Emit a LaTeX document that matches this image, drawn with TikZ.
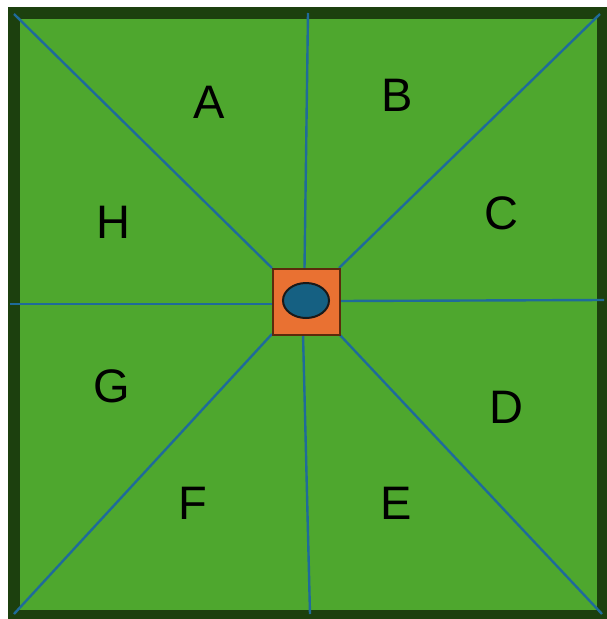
\documentclass[tikz,border=0pt]{standalone}
\usetikzlibrary{shapes.geometric}
\usepackage{fontspec}
\setmainfont{Liberation Sans}
\definecolor{field}{HTML}{4EA72E}
\definecolor{darkrim}{HTML}{1C400E}
\definecolor{boxorange}{HTML}{E97132}
\definecolor{boxrim}{HTML}{5C2A0C}
\definecolor{pond}{HTML}{156082}
\definecolor{ray}{HTML}{1F6B9A}
\tikzset{
  rayline/.style={draw=ray, line width=2.4pt},
  lbl/.style={font=\fontsize{47}{50}\selectfont, text=black, inner sep=0pt},
}
\begin{document}
\begin{tikzpicture}[x=1pt,y=-1pt]
\useasboundingbox (0,0) rectangle (607,619);
\begin{scope}
\clip (0,0) rectangle (607,619);
\draw[fill=field, draw=darkrim, line width=12pt] (14,13) rectangle (603,616);
\end{scope}
% rim anchor points
\coordinate (tl) at (14,14);
\coordinate (tr) at (600,14);
\coordinate (bl) at (14,614);
\coordinate (br) at (602,614);
\coordinate (tm) at (308,13);
\coordinate (bm) at (310,614);
\coordinate (lm) at (10,304);
\coordinate (rm) at (604,300);
% box corner points
\coordinate (btl) at (272,268);
\coordinate (btr) at (339,268);
\coordinate (bbl) at (272,334);
\coordinate (bbr) at (339,334);
\coordinate (btm) at (304.5,268);
\coordinate (bbm) at (303,334);
\coordinate (blm) at (272,304);
\coordinate (brm) at (339,301);
\draw[rayline] (tl) -- (btl);
\draw[rayline] (tr) -- (btr);
\draw[rayline] (bl) -- (bbl);
\draw[rayline] (br) -- (bbr);
\draw[rayline] (tm) -- (btm);
\draw[rayline] (bm) -- (bbm);
\draw[rayline] (lm) -- (blm);
\draw[rayline] (rm) -- (brm);
\node[draw=boxrim, fill=boxorange, line width=2pt, minimum width=67pt, minimum height=66pt, inner sep=0pt, anchor=north west] (box) at (272,268) {};
\node[ellipse, draw=black!90, fill=pond, line width=2pt, minimum width=46pt, minimum height=35pt, inner sep=0pt] (pondnode) at (306,300.5) {};
% labels
\node[lbl] (A) at (209,102) {A};
\node[lbl] (B) at (397,95) {B};
\node[lbl] (C) at (501,213) {C};
\node[lbl] (D) at (506,407) {D};
\node[lbl] (E) at (396,503) {E};
\node[lbl] (F) at (193,503) {F};
\node[lbl] (G) at (112,386) {G};
\node[lbl] (H) at (113,222) {H};
\end{tikzpicture}
\end{document}
